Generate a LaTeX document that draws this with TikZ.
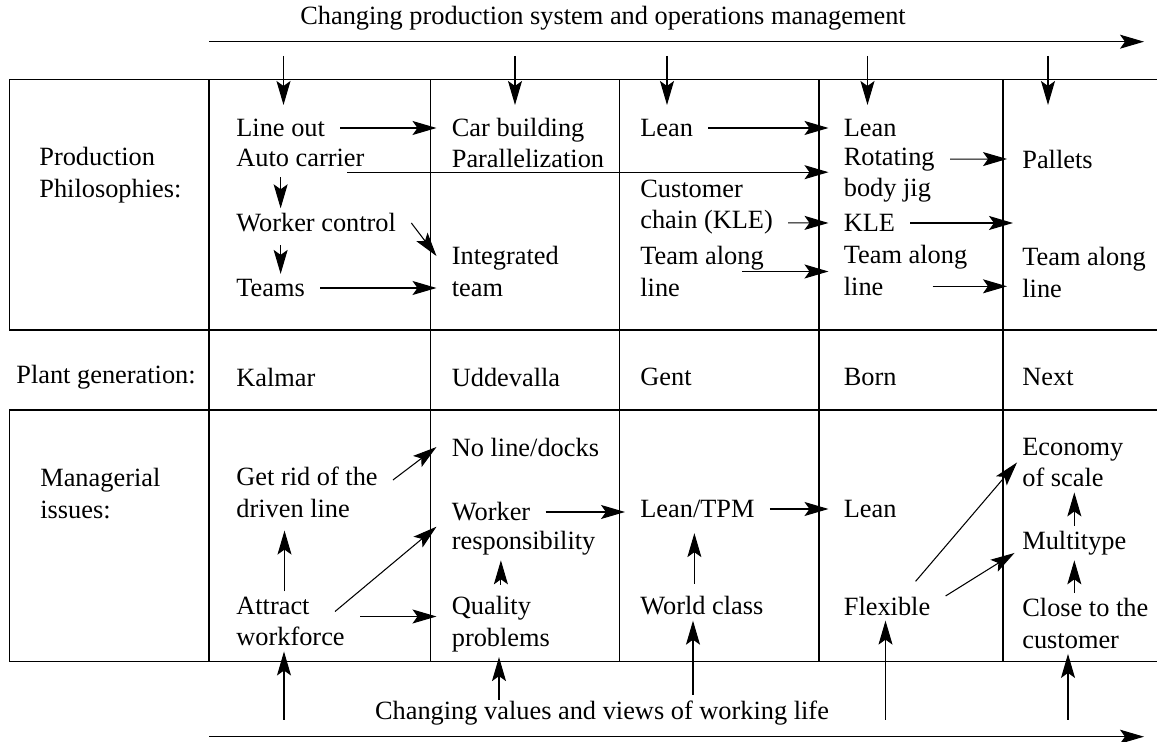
\documentclass[tikz,border=0pt]{standalone}
\usepackage{fontspec}
\setmainfont{Liberation Serif}
\usetikzlibrary{arrows.meta}

\begin{document}
\begin{tikzpicture}[
  >={Stealth[length=0.48cm,width=0.28cm,inset=0.1cm]},
  font=\fontsize{15}{18}\selectfont,
  lbl/.style={anchor=west,align=left,inner xsep=0.3cm,inner ysep=0.1cm},
  tabline/.style={line width=0.7pt},
  conn/.style={->,line width=0.6pt}]
\useasboundingbox (0,0) rectangle (23.14,14.84);

% table
\draw[tabline] (23.14,13.254) -- (0.184,13.254) -- (0.184,8.24) -- (23.14,8.24);
\draw[tabline] (23.14,6.64) -- (0.184,6.64) -- (0.184,1.606) -- (23.14,1.606);
\foreach \x in {4.18,8.614,12.39,16.38,20.06}
  \draw[tabline] (\x,13.254) -- (\x,1.606);

% time axes
\coordinate (pstart) at (4.18,14.006);
\coordinate (pend) at (22.88,14.006);
\draw[conn] (pstart) -- (pend);
\node (ptitle) at (12.06,14.48) {Changing production system and operations management};
\coordinate (vstart) at (4.18,0.106);
\coordinate (vend) at (22.88,0.106);
\draw[conn] (vstart) -- (vend);
\node (vtitle) at (12.04,0.58) {Changing values and views of working life};

\foreach \x [count=\i] in {5.67,10.3,13.34,17.35,20.96} {
  \coordinate (t\i) at (\x,13.72);
  \coordinate (d\i) at (\x,12.74);
  \draw[conn] (t\i) -- (d\i);
}

% row labels
\node[lbl] (prodphil) at (0.48,11.34) {Production\\Philosophies:};
\node[lbl] (plantgen) at (0.02,7.30) {Plant generation:};
\node[lbl] (manag) at (0.50,4.97) {Managerial\\issues:};

% Kalmar
\node[lbl] (lineout) at (4.42,12.28) {Line out};
\node[lbl] (autocar) at (4.42,11.68) {Auto carrier};
\node[lbl] (wcontrol) at (4.42,10.38) {Worker control};
\node[lbl] (teams) at (4.42,9.08) {Teams};
\node[lbl] (kalmar) at (4.42,7.30) {Kalmar};
\node[lbl] (getrid) at (4.42,4.99) {Get rid of the\\driven line};
\node[lbl] (attract) at (4.42,2.41) {Attract\\workforce};

% Uddevalla
\node[lbl] (carbuild) at (8.73,11.98) {Car building\\Parallelization};
\node[lbl] (integ) at (8.73,9.41) {Integrated\\team};
\node[lbl] (uddevalla) at (8.73,7.30) {Uddevalla};
\node[lbl] (noline) at (8.73,5.90) {No line/docks};
\node[lbl] (worker) at (8.73,4.60) {Worker};
\node[lbl] (resp) at (8.73,3.98) {responsibility};
\node[lbl] (quality) at (8.73,2.36) {Quality\\problems};

% Gent
\node[lbl] (leang) at (12.50,12.28) {Lean};
\node[lbl] (customer) at (12.50,10.70) {Customer\\chain (KLE)};
\node[lbl] (teamg) at (12.50,9.41) {Team along\\line};
\node[lbl] (gent) at (12.50,7.30) {Gent};
\node[lbl] (leantpm) at (12.50,4.66) {Lean/TPM};
\node[lbl] (world) at (12.50,2.72) {World class};

% Born
\node[lbl] (leanb) at (16.57,12.28) {Lean};
\node[lbl] (rotating) at (16.57,11.34) {Rotating\\body jig};
\node[lbl] (kleb) at (16.57,10.38) {KLE};
\node[lbl] (teamb) at (16.57,9.43) {Team along\\line};
\node[lbl] (born) at (16.57,7.30) {Born};
\node[lbl] (leanb2) at (16.57,4.66) {Lean};
\node[lbl] (flexible) at (16.57,2.72) {Flexible};

% Next
\node[lbl] (pallets) at (20.14,11.66) {Pallets};
\coordinate (klen) at (20.26,10.38);
\node[lbl] (teamn) at (20.14,9.39) {Team along\\line};
\node[lbl] (next) at (20.14,7.30) {Next};
\node[lbl] (economy) at (20.14,5.59) {Economy\\of scale};
\node[lbl] (multitype) at (20.14,3.98) {Multitype};
\node[lbl] (close) at (20.14,2.37) {Close to the\\customer};

% production philosophies
\draw[conn] (lineout.east) -- (lineout.east -| carbuild.west);
\draw[conn] ([xshift=-0.65cm]autocar.south east) -- (autocar.south east -| rotating.west);
\draw[conn] ([yshift=-0.1cm]lineout.south |- autocar.south) -- (lineout.south |- wcontrol.north);
\draw[conn] ([yshift=-0.15cm]lineout.south |- wcontrol.south) -- (lineout.south |- teams.north);
\draw[conn] (wcontrol.east) -- ([yshift=-0.3cm]integ.north west);
\draw[conn] (teams.east) -- (teams.east -| integ.west);
\draw[conn] (leang.east) -- (leanb.west);
\draw[conn] ([yshift=-9pt]customer.east) -- (kleb.west);
\draw[conn] ([xshift=-0.74cm]teamg.east) -- (teamg.east -| teamb.west);
\draw[conn] ([yshift=9pt]rotating.east) -- (pallets.west);
\draw[conn] (kleb.east) -- (klen);
\draw[conn] ([shift={(-1cm,-9pt)}]teamb.east) -- ([yshift=-9pt]teamb.east -| teamn.west);

% managerial issues
\draw[conn] ([yshift=0.25cm]getrid.east) -- (noline.west);
\draw[conn] ([xshift=-0.12cm]attract.north) -- ([shift={(-0.12cm,-0.15cm)}]attract.north |- getrid.south);
\draw[conn] ([shift={(-0.5cm,0.2cm)}]attract.east) -- (worker.south west);
\draw[conn] ([yshift=0.1cm]attract.east) -- ([yshift=0.1cm]attract.east -| quality.west);
\draw[conn] ([yshift=0.12cm]quality.north) -- (quality.north |- resp.south);
\draw[conn] (worker.east) -- (worker.east -| leantpm.west);
\draw[conn] (leantpm.east) -- (leanb2.west);
\draw[conn] ([shift={(-0.15cm,0.15cm)}]world.north) -- ([shift={(-0.15cm,-0.2cm)}]world.north |- leantpm.south);
\draw[conn] ([shift={(-0.6cm,0.2cm)}]flexible.north east) -- ([xshift=0.2cm]economy.west);
\draw[conn] ([yshift=0.2cm]flexible.east) -- ([shift={(0.15cm,-0.2cm)}]multitype.west);
\draw[conn] (close.north -| multitype.south) -- (multitype.south);
\draw[conn] (multitype.north) -- (multitype.north |- economy.south);

% values and views
\coordinate (b1) at (5.68,0.44);
\coordinate (b2) at (9.98,0.84);
\coordinate (b3) at (13.86,0.94);
\coordinate (b4) at (17.71,0.44);
\coordinate (b5) at (21.36,0.44);
\draw[conn] (b1) -- (b1 |- attract.south);
\draw[conn] (b2) -- (b2 |- quality.south);
\draw[conn] (b3) -- (b3 |- world.south);
\draw[conn] (b4) -- (b4 |- flexible.south);
\draw[conn] (b5) -- (b5 |- close.south);
\end{tikzpicture}
\end{document}
